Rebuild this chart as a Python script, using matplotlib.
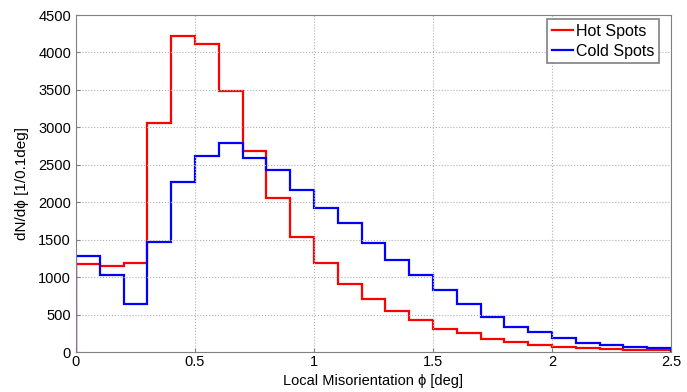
import numpy as np
import matplotlib
matplotlib.use("Agg")
import matplotlib.pyplot as plt

plt.rcParams['font.family'] = ['Liberation Sans', 'DejaVu Sans']
plt.rcParams['font.size'] = 10.5

# histogram bin edges, 0.1 deg wide
edges = np.round(np.arange(0, 2.51, 0.1), 2)

hot = [1180, 1145, 1185, 3053, 4225, 4113, 3489, 2687, 2063, 1542,
       1183, 907, 703, 547, 427, 311, 254, 178, 133, 98,
       67, 49, 36, 27, 22]
cold = [1288, 1029, 637, 1471, 2273, 2616, 2794, 2589, 2424, 2166,
        1926, 1726, 1459, 1223, 1032, 823, 641, 467, 338, 262,
        182, 125, 98, 67, 49]

fig = plt.figure(figsize=(6.87, 3.92), dpi=100)
ax = fig.add_axes([0.1106, 0.102, 0.866, 0.8597])

ax.stairs(hot, edges, color='#ff0000', lw=1.6, label='Hot Spots')
ax.stairs(cold, edges, color='#0000ff', lw=1.6, label='Cold Spots')

ax.set_xlim(0, 2.5)
ax.set_ylim(0, 4500)
ax.set_xticks([0, 0.5, 1, 1.5, 2, 2.5])
ax.set_xticklabels(['0', '0.5', '1', '1.5', '2', '2.5'])
ax.set_yticks(np.arange(0, 4501, 500))

ax.grid(True, linestyle=':', color='#b0b0b0', lw=0.8)
for s in ax.spines.values():
    s.set_color('#808080')
ax.tick_params(direction='in', length=3, color='#808080')
ax.tick_params(axis='x', pad=2.5)
ax.tick_params(axis='y', pad=3.5)

ax.set_xlabel('Local Misorientation \u03d5 [deg]', labelpad=3)
ax.set_ylabel('dN/d\u03d5 [1/0.1deg]', labelpad=7, fontsize=11)

leg = ax.legend(loc='upper right', bbox_to_anchor=(0.98, 0.988),
                borderaxespad=0, fancybox=False, framealpha=1,
                edgecolor='#808080', handlelength=1.3, handletextpad=0.2,
                borderpad=0.3, labelspacing=0.3, fontsize=11.5)
leg.get_frame().set_linewidth(1.2)

fig.savefig('out.png', dpi=100)
